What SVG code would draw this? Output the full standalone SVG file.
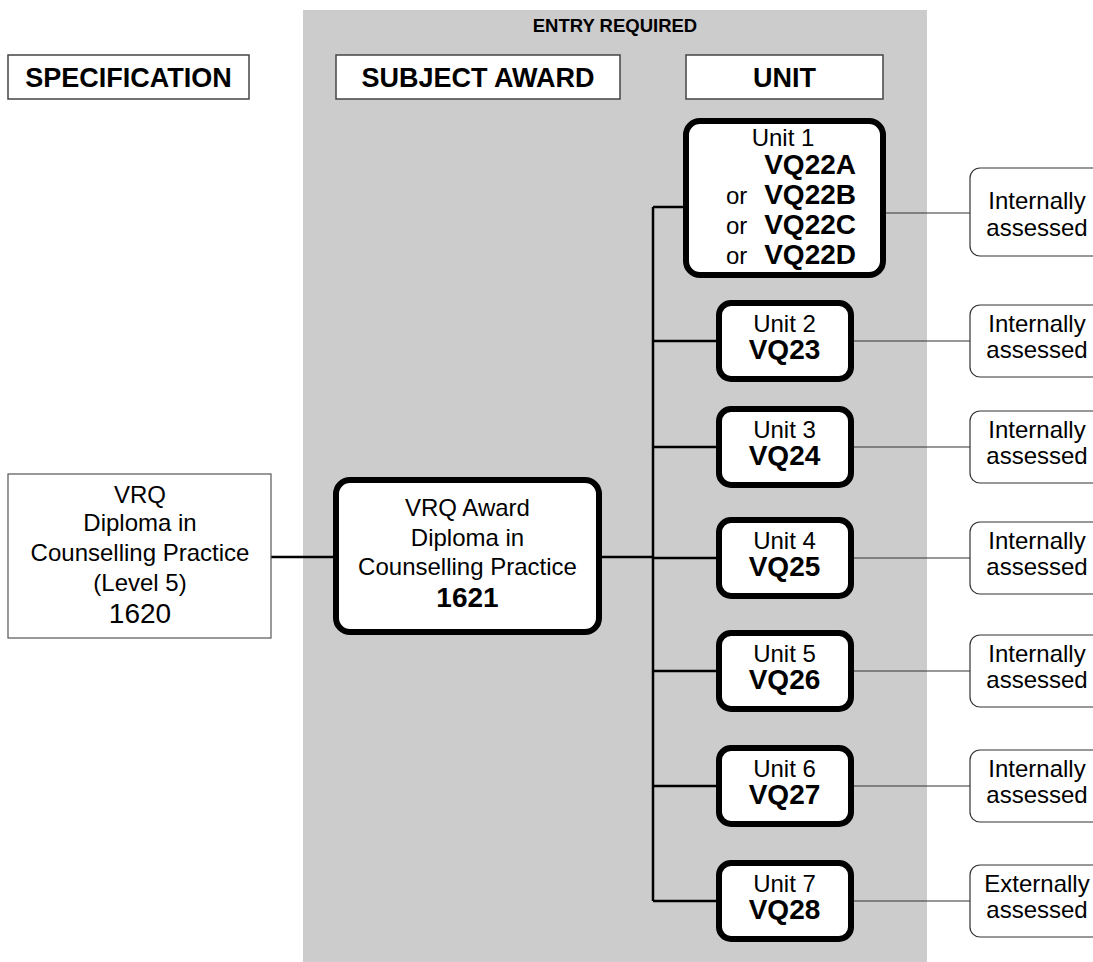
<svg xmlns="http://www.w3.org/2000/svg" width="1093" height="962" viewBox="0 0 1093 962">
<style>
text{font-family:"Liberation Sans",Arial,sans-serif;fill:#000}
.hdr{fill:#fff;stroke:#444;stroke-width:1.5}
.ht{font-size:27px;font-weight:bold;text-anchor:middle}
.thick{fill:#fff;stroke:#000;stroke-width:6}
.thin{fill:#fff;stroke:#333;stroke-width:1.2}
.r{font-size:24px;text-anchor:middle}
.b{font-size:28px;font-weight:bold;text-anchor:middle}
.c{stroke:#000;stroke-width:2.5;fill:none}
.t{stroke:#333;stroke-width:1.2;fill:none}
</style>
<rect x="303" y="10" width="624" height="952" fill="#cccccc"/>
<text x="615" y="32" style="font-size:18.5px;font-weight:bold;text-anchor:middle">ENTRY REQUIRED</text>
<g id="hdr-spec"><rect class="hdr" x="8" y="55" width="241" height="44"/><text class="ht" x="128.5" y="87">SPECIFICATION</text></g>
<g id="hdr-subject"><rect class="hdr" x="336" y="55" width="284" height="44"/><text class="ht" x="478" y="87">SUBJECT AWARD</text></g>
<g id="hdr-unit"><rect class="hdr" x="686" y="55" width="197" height="44"/><text class="ht" x="784.5" y="87">UNIT</text></g>
<g id="connectors">
<path class="c" d="M271 557H336M599 557H653M653 207V901M653 207H686M653 341H719M653 447H719M653 558H719M653 671H719M653 786H719M653 901H719"/>
<path class="t" d="M886 213H970M851 341H970M851 447H970M851 558H970M851 671H970M851 786H970M851 901H970"/>
</g>
<g id="spec"><rect x="8" y="474" width="263" height="164" fill="#fff" stroke="#555" stroke-width="1.2"/>
<text class="r" x="140" y="503">VRQ</text><text class="r" x="140" y="531">Diploma in</text><text class="r" x="140" y="561">Counselling Practice</text><text class="r" x="140" y="591">(Level 5)</text><text class="r" x="140" y="623" style="font-size:28px">1620</text></g>
<g id="award"><rect class="thick" x="336" y="480" width="263" height="152" rx="14"/>
<text class="r" x="467.5" y="516">VRQ Award</text><text class="r" x="467.5" y="546">Diploma in</text><text class="r" x="467.5" y="575">Counselling Practice</text><text class="b" x="467.5" y="607">1621</text></g>
<g id="unit1"><rect class="thick" x="686" y="121" width="197" height="154" rx="14"/>
<text class="r" x="783" y="146">Unit 1</text>
<text class="b" x="856" y="174" style="text-anchor:end">VQ22A</text>
<text class="r" x="726" y="204" style="text-anchor:start">or</text><text class="b" x="856" y="204" style="text-anchor:end">VQ22B</text>
<text class="r" x="726" y="234" style="text-anchor:start">or</text><text class="b" x="856" y="234" style="text-anchor:end">VQ22C</text>
<text class="r" x="726" y="264" style="text-anchor:start">or</text><text class="b" x="856" y="264" style="text-anchor:end">VQ22D</text></g>
<g id="unit2"><rect class="thick" x="719" y="303" width="132" height="76" rx="12"/><text class="r" x="784.5" y="332">Unit 2</text><text class="b" x="784.5" y="359">VQ23</text></g>
<g id="unit3"><rect class="thick" x="719" y="409" width="132" height="76" rx="12"/><text class="r" x="784.5" y="438">Unit 3</text><text class="b" x="784.5" y="465">VQ24</text></g>
<g id="unit4"><rect class="thick" x="719" y="520" width="132" height="76" rx="12"/><text class="r" x="784.5" y="549">Unit 4</text><text class="b" x="784.5" y="576">VQ25</text></g>
<g id="unit5"><rect class="thick" x="719" y="633" width="132" height="76" rx="12"/><text class="r" x="784.5" y="662">Unit 5</text><text class="b" x="784.5" y="689">VQ26</text></g>
<g id="unit6"><rect class="thick" x="719" y="748" width="132" height="76" rx="12"/><text class="r" x="784.5" y="777">Unit 6</text><text class="b" x="784.5" y="804">VQ27</text></g>
<g id="unit7"><rect class="thick" x="719" y="863" width="132" height="76" rx="12"/><text class="r" x="784.5" y="892">Unit 7</text><text class="b" x="784.5" y="919">VQ28</text></g>
<g id="assess1"><rect class="thin" x="970" y="168" width="134" height="88" rx="10"/><text class="r" x="1037" y="209">Internally</text><text class="r" x="1037" y="236">assessed</text></g>
<g id="assess2"><rect class="thin" x="970" y="305" width="134" height="72" rx="10"/><text class="r" x="1037" y="332">Internally</text><text class="r" x="1037" y="358">assessed</text></g>
<g id="assess3"><rect class="thin" x="970" y="411" width="134" height="72" rx="10"/><text class="r" x="1037" y="438">Internally</text><text class="r" x="1037" y="464">assessed</text></g>
<g id="assess4"><rect class="thin" x="970" y="522" width="134" height="72" rx="10"/><text class="r" x="1037" y="549">Internally</text><text class="r" x="1037" y="575">assessed</text></g>
<g id="assess5"><rect class="thin" x="970" y="635" width="134" height="72" rx="10"/><text class="r" x="1037" y="662">Internally</text><text class="r" x="1037" y="688">assessed</text></g>
<g id="assess6"><rect class="thin" x="970" y="750" width="134" height="72" rx="10"/><text class="r" x="1037" y="777">Internally</text><text class="r" x="1037" y="803">assessed</text></g>
<g id="assess7"><rect class="thin" x="970" y="865" width="134" height="72" rx="10"/><text class="r" x="1037" y="892">Externally</text><text class="r" x="1037" y="918">assessed</text></g>
</svg>
